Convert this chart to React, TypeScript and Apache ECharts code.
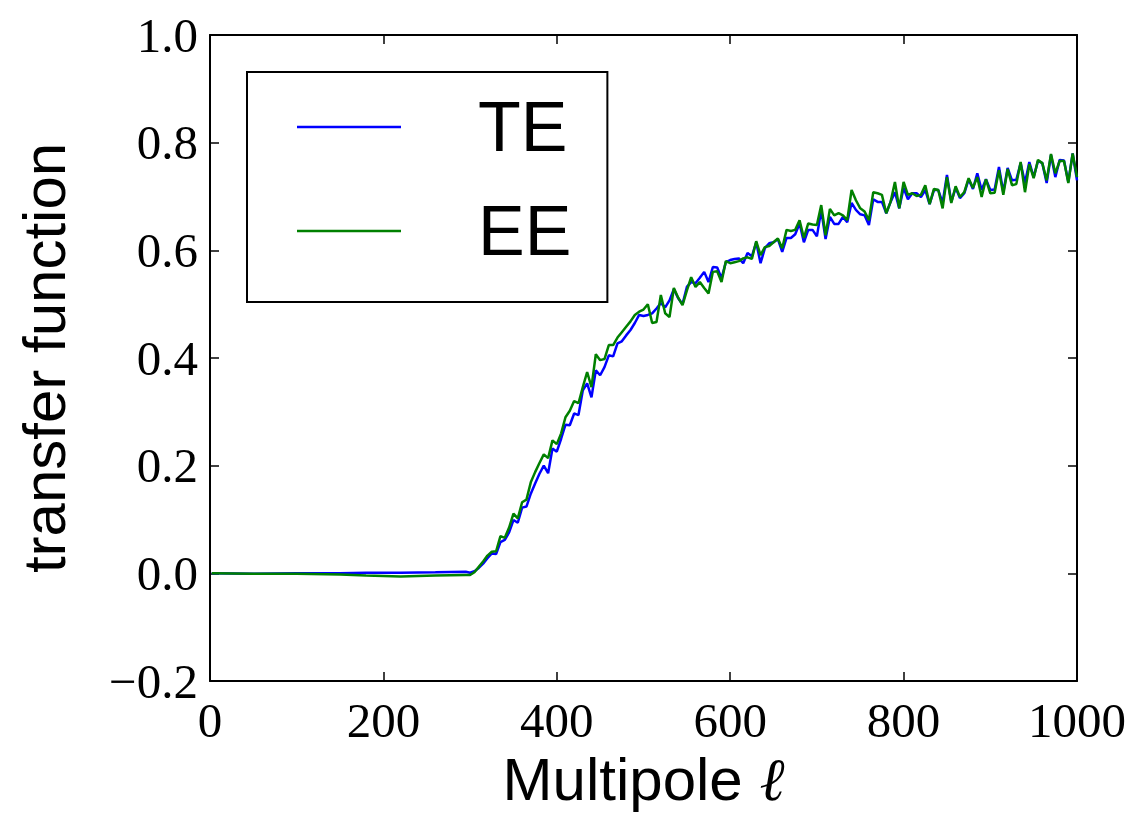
import React, { useEffect, useRef } from "react";
import * as echarts from "echarts";

const ellLow = [2, 50, 100, 150, 180, 220, 260, 295];
const teLow = [0.0, -0.001, 0.0, 0.0, 0.001, 0.001, 0.002, 0.003];
const eeLow = [0.0, -0.001, -0.001, -0.002, -0.004, -0.006, -0.004, -0.003];

const ellHigh = [
  300, 305, 310, 315, 320, 325, 330, 335, 340, 345,
  350, 355, 360, 365, 370, 375, 380, 385, 390, 395,
  400, 405, 410, 415, 420, 425, 430, 435, 440, 445,
  450, 455, 460, 465, 470, 475, 480, 485, 490, 495,
  500, 505, 510, 515, 520, 525, 530, 535, 540, 545,
  550, 555, 560, 565, 570, 575, 580, 585, 590, 595,
  600, 605, 610, 615, 620, 625, 630, 635, 640, 645,
  650, 655, 660, 665, 670, 675, 680, 685, 690, 695,
  700, 705, 710, 715, 720, 725, 730, 735, 740, 745,
  750, 755, 760, 765, 770, 775, 780, 785, 790, 795,
  800, 805, 810, 815, 820, 825, 830, 835, 840, 845,
  850, 855, 860, 865, 870, 875, 880, 885, 890, 895,
  900, 905, 910, 915, 920, 925, 930, 935, 940, 945,
  950, 955, 960, 965, 970, 975, 980, 985, 990, 995,
  1000,
];

const teHigh = [
  0.001, 0.004, 0.010, 0.018, 0.028, 0.037, 0.036, 0.058, 0.062, 0.076,
  0.099, 0.094, 0.122, 0.124, 0.148, 0.167, 0.185, 0.200, 0.186, 0.232,
  0.226, 0.250, 0.276, 0.275, 0.297, 0.294, 0.340, 0.353, 0.327, 0.377,
  0.368, 0.383, 0.405, 0.403, 0.427, 0.431, 0.442, 0.452, 0.465, 0.480,
  0.478, 0.480, 0.483, 0.492, 0.502, 0.494, 0.507, 0.528, 0.511, 0.500,
  0.532, 0.541, 0.539, 0.549, 0.560, 0.541, 0.569, 0.568, 0.548, 0.578,
  0.582, 0.584, 0.585, 0.576, 0.595, 0.589, 0.615, 0.576, 0.604, 0.613,
  0.615, 0.621, 0.597, 0.623, 0.623, 0.630, 0.650, 0.615, 0.638, 0.638,
  0.626, 0.675, 0.621, 0.662, 0.649, 0.649, 0.662, 0.652, 0.688, 0.675,
  0.667, 0.665, 0.647, 0.695, 0.690, 0.690, 0.669, 0.690, 0.708, 0.678,
  0.716, 0.695, 0.706, 0.706, 0.699, 0.712, 0.686, 0.712, 0.712, 0.688,
  0.740, 0.690, 0.716, 0.697, 0.706, 0.732, 0.714, 0.743, 0.712, 0.732,
  0.712, 0.713, 0.755, 0.708, 0.753, 0.730, 0.731, 0.762, 0.725, 0.764,
  0.736, 0.766, 0.762, 0.725, 0.777, 0.736, 0.768, 0.767, 0.727, 0.780,
  0.730,
];

const eeHigh = [
  -0.003, 0.002, 0.012, 0.022, 0.033, 0.040, 0.041, 0.069, 0.066, 0.085,
  0.111, 0.102, 0.132, 0.137, 0.169, 0.188, 0.205, 0.221, 0.214, 0.247,
  0.240, 0.260, 0.290, 0.302, 0.320, 0.316, 0.346, 0.374, 0.346, 0.407,
  0.396, 0.398, 0.424, 0.424, 0.438, 0.448, 0.458, 0.468, 0.480, 0.486,
  0.490, 0.500, 0.465, 0.467, 0.517, 0.483, 0.476, 0.530, 0.512, 0.498,
  0.525, 0.550, 0.532, 0.541, 0.530, 0.520, 0.560, 0.561, 0.541, 0.580,
  0.576, 0.578, 0.580, 0.585, 0.587, 0.584, 0.617, 0.591, 0.606, 0.608,
  0.615, 0.622, 0.604, 0.638, 0.636, 0.638, 0.656, 0.623, 0.650, 0.648,
  0.647, 0.684, 0.628, 0.677, 0.665, 0.669, 0.665, 0.656, 0.712, 0.693,
  0.678, 0.672, 0.656, 0.708, 0.706, 0.703, 0.669, 0.690, 0.727, 0.678,
  0.727, 0.703, 0.706, 0.701, 0.703, 0.721, 0.686, 0.714, 0.712, 0.678,
  0.736, 0.688, 0.719, 0.699, 0.708, 0.734, 0.716, 0.736, 0.699, 0.732,
  0.706, 0.707, 0.749, 0.703, 0.751, 0.721, 0.723, 0.764, 0.708, 0.760,
  0.734, 0.768, 0.762, 0.730, 0.779, 0.743, 0.766, 0.766, 0.725, 0.780,
  0.736,
];

const xTicks = { min: 0, max: 1000, interval: 200 };
const yTicks = { min: -0.2, max: 1.0, interval: 0.2 };

const SERIF = "'Liberation Serif', 'DejaVu Serif', serif";
const SANS = "'Liberation Sans', Arial, sans-serif";

function pairs(xs: number[], ys: number[]) {
  return xs.map((x, i) => [x, ys[i]]);
}

export default function App() {
  const ref = useRef<HTMLDivElement>(null);

  useEffect(() => {
    document.body.style.margin = "0";
    if (!ref.current) return;
    const chart = echarts.init(ref.current, undefined, { renderer: "svg" });

    const ell = [...ellLow, ...ellHigh];
    const te = [...teLow, ...teHigh];
    const ee = [...eeLow, ...eeHigh];

    const axisLine = { show: true, onZero: false, lineStyle: { color: "#000", width: 2 } };
    const axisTick = {
      show: true,
      inside: true,
      length: 9,
      lineStyle: { color: "#000", width: 1.5 },
    };

    const fmtY = (v: number) => {
      const s = Math.abs(v).toFixed(1);
      return v < -1e-9 ? "\u2212" + s : s;
    };

    chart.setOption({
      animation: false,
      backgroundColor: "#fff",
      grid: { left: 210, right: 64, top: 35, bottom: 134, containLabel: false },
      legend: {
        orient: "vertical",
        left: 247,
        top: 72,
        padding: [20, 36, 36, 50],
        itemGap: 34,
        itemWidth: 104,
        itemHeight: 2.5,
        icon: "rect",
        borderColor: "#000",
        borderWidth: 2,
        borderRadius: 0,
        backgroundColor: "#fff",
        textStyle: {
          fontSize: 70,
          fontFamily: SANS,
          color: "#000",
          lineHeight: 70,
          padding: [0, 0, 0, 72],
        },
        data: [{ name: "TE" }, { name: "EE" }],
      },
      xAxis: [
        {
          type: "value",
          ...xTicks,
          position: "bottom",
          axisLine,
          axisTick,
          splitLine: { show: false },
          axisLabel: {
            show: true,
            fontSize: 49,
            fontFamily: SERIF,
            color: "#000",
            margin: 15,
            formatter: (v: number) => String(v),
          },
          name: "Multipole {l|\u2113}",
          nameLocation: "middle",
          nameGap: 62,
          nameTextStyle: {
            fontSize: 60,
            fontFamily: SANS,
            color: "#000",
            rich: {
              l: { fontSize: 60, fontFamily: SERIF, fontStyle: "italic", color: "#000" },
            },
          },
        },
        {
          type: "value",
          ...xTicks,
          position: "top",
          axisLine,
          axisTick,
          splitLine: { show: false },
          axisLabel: { show: false },
        },
      ],
      yAxis: [
        {
          type: "value",
          ...yTicks,
          position: "left",
          axisLine,
          axisTick,
          splitLine: { show: false },
          axisLabel: {
            show: true,
            fontSize: 49,
            fontFamily: SERIF,
            color: "#000",
            margin: 12,
            formatter: fmtY,
          },
          name: "transfer function",
          nameLocation: "middle",
          nameGap: 136,
          nameTextStyle: { fontSize: 60, fontFamily: SANS, color: "#000" },
        },
        {
          type: "value",
          ...yTicks,
          position: "right",
          axisLine,
          axisTick,
          splitLine: { show: false },
          axisLabel: { show: false },
        },
      ],
      series: [
        {
          name: "TE",
          type: "line",
          xAxisIndex: 0,
          yAxisIndex: 0,
          data: pairs(ell, te),
          symbol: "none",
          showSymbol: false,
          lineStyle: { color: "#0000ff", width: 2.5 },
          itemStyle: { color: "#0000ff" },
          z: 2,
        },
        {
          name: "EE",
          type: "line",
          xAxisIndex: 0,
          yAxisIndex: 0,
          data: pairs(ell, ee),
          symbol: "none",
          showSymbol: false,
          lineStyle: { color: "#008000", width: 2.5 },
          itemStyle: { color: "#008000" },
          z: 3,
        },
      ],
    });

    return () => chart.dispose();
  }, []);

  return <div ref={ref} style={{ width: 1141, height: 815 }} />;
}
